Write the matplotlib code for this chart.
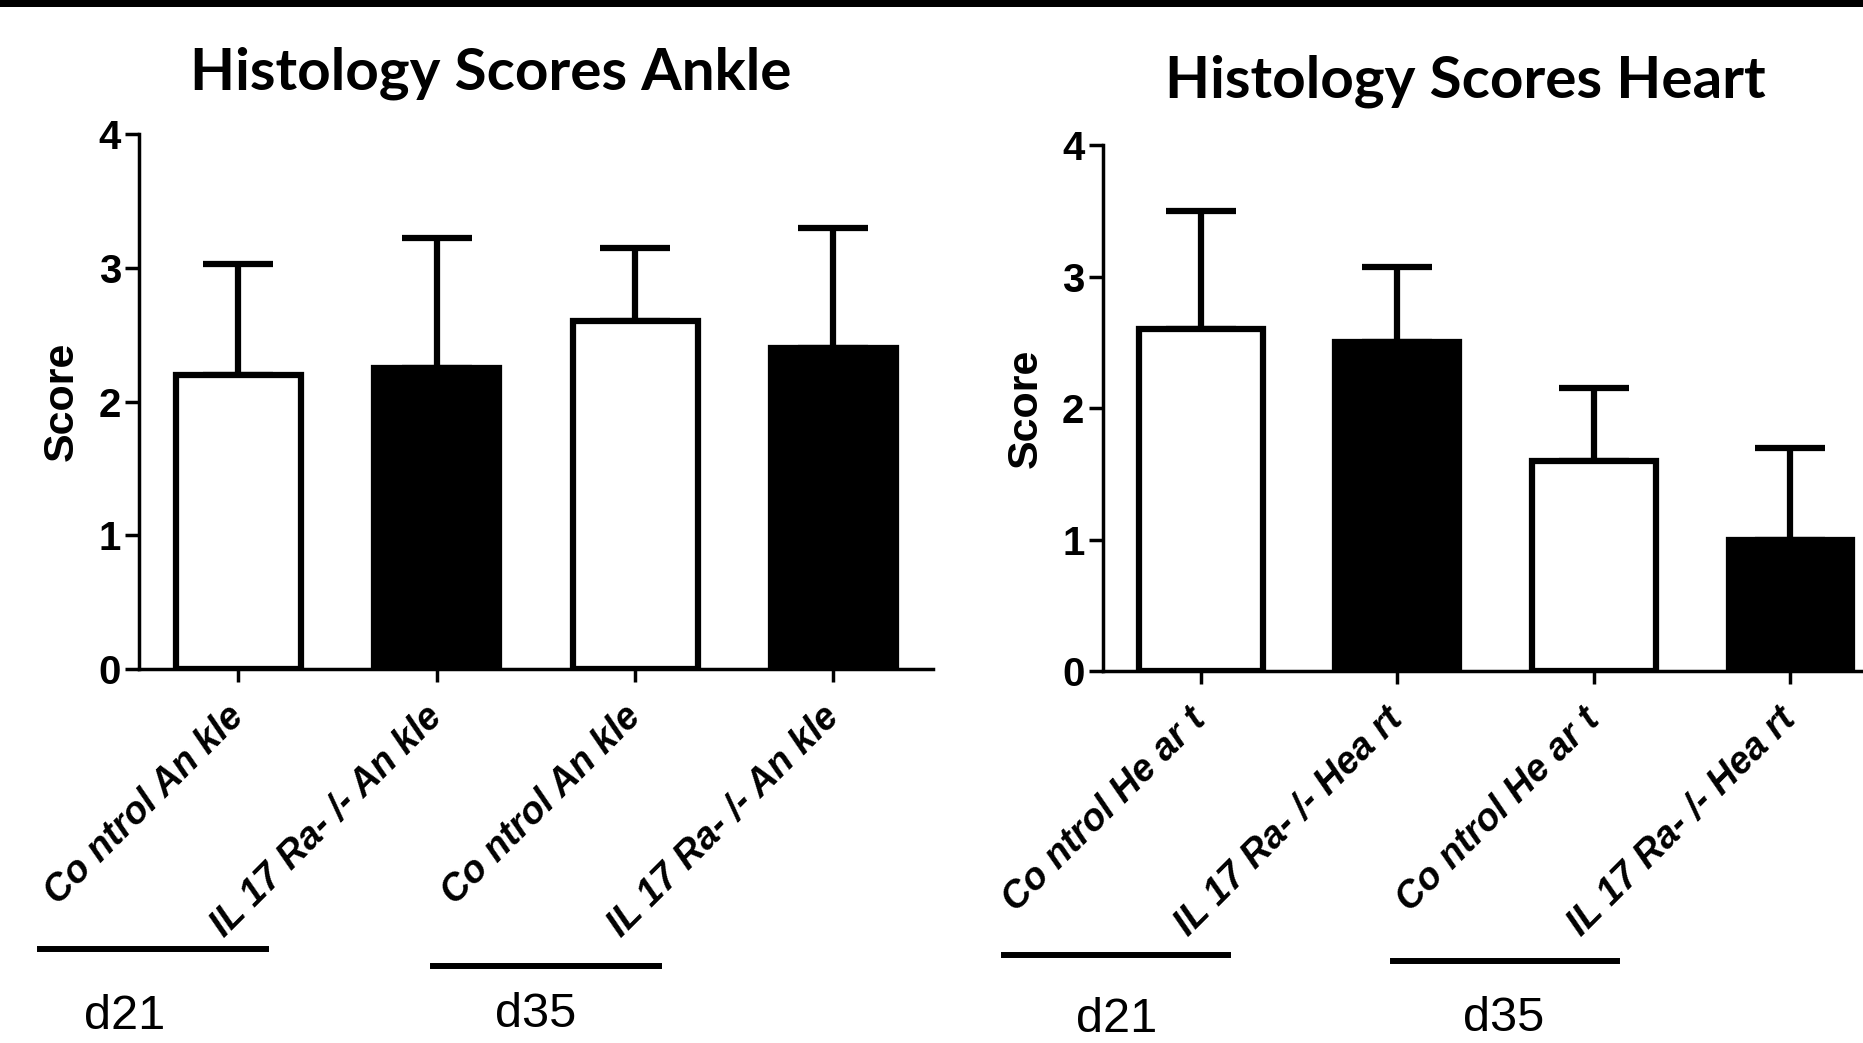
import matplotlib
matplotlib.use("Agg")
import matplotlib.pyplot as plt
import matplotlib.transforms as mtransforms
from matplotlib.patches import Rectangle
from matplotlib.lines import Line2D
from matplotlib import font_manager

# ---------------- data ----------------
ankle_labels = ["Co ntrol An kle", "IL 17 Ra- /- An kle", "Co ntrol An kle", "IL 17 Ra- /- An kle"]
ankle_means = [2.2, 2.25, 2.6, 2.4]
ankle_err = [0.83, 0.97, 0.55, 0.9]

heart_labels = ["Co ntrol He ar t", "IL 17 Ra- /- Hea rt", "Co ntrol He ar t", "IL 17 Ra- /- Hea rt"]
heart_means = [2.6, 2.5, 1.6, 1.0]
heart_err = [0.9, 0.57, 0.55, 0.7]

bar_colors = ["white", "black", "white", "black"]
y_ticks = [0, 1, 2, 3, 4]
group_names = ["d21", "d35"]

available = {f.name for f in font_manager.fontManager.ttflist}
narrow = "Liberation Sans Narrow" if "Liberation Sans Narrow" in available else "Liberation Sans"
title_font = "Lato" if "Lato" in available else "Open Sans"

plt.rcParams["font.family"] = ["Liberation Sans", "DejaVu Sans"]

fig = plt.figure(figsize=(18.63, 10.43), dpi=100)

# top black band
fig.patches.append(Rectangle((0, 1 - 7 / 1043), 1, 7 / 1043, transform=fig.transFigure,
                             facecolor="black", edgecolor="none"))

def panel(rect, labels, means, errs, group_y, text_pos):
    ax = fig.add_axes(rect)
    x = list(range(len(means)))
    ax.bar(x, means, width=0.63, color=bar_colors, edgecolor="black", linewidth=4.5, zorder=2)
    ax.errorbar(x, means, yerr=[[0] * len(errs), errs], fmt="none", ecolor="black",
                elinewidth=4.5, capsize=25, capthick=4.5, zorder=1)
    ax.set_xlim(-0.5, 3.5)
    ax.set_ylim(0, 4)
    ax.set_yticks(y_ticks)
    ax.set_yticklabels([str(t) for t in y_ticks], fontsize=29, fontweight="bold")
    ax.set_xticks(x)
    ax.set_xticklabels(labels, rotation=45, ha="right", va="center", rotation_mode="anchor",
                       fontsize=27, fontweight="bold", fontstyle="italic")
    for lab in ax.get_xticklabels():
        lab.set_transform(lab.get_transform() + mtransforms.ScaledTranslation(-6 / 100, 0, fig.dpi_scale_trans))
    ax.tick_params(axis="x", length=9, width=2.5, pad=22)
    ax.tick_params(axis="y", length=10, width=2.5, pad=3)
    for s in ["top", "right"]:
        ax.spines[s].set_visible(False)
    for s in ["left", "bottom"]:
        ax.spines[s].set_linewidth(2.5)
    ax.set_ylabel("Score", fontsize=31, fontweight="bold", labelpad=12)
    ax.patch.set_alpha(0)
    trans = mtransforms.blended_transform_factory(ax.transData, fig.transFigure)
    starts = [-1.0, 0.98]
    for i, (gy, (tx, ty)) in enumerate(zip(group_y, text_pos)):
        ax.add_line(Line2D([starts[i], starts[i] + 1.14], [gy, gy], transform=trans,
                           color="black", linewidth=4.3, clip_on=False))
        ax.text(tx, ty, group_names[i], transform=trans, ha="center", va="bottom",
                fontsize=35, family=[narrow, "DejaVu Sans"], clip_on=False)
    return ax

ax1 = panel([0.0746, 0.3588, 0.426, 0.5125], ankle_labels, ankle_means, ankle_err,
            [0.090, 0.074], [(-0.57, 0.004), (1.5, 0.006)])
ax2 = panel([0.5918, 0.3565, 0.422, 0.5045], heart_labels, heart_means, heart_err,
            [0.084, 0.0786], [(-0.43, 0.001), (1.54, 0.002)])

fig.text(413 / 1568, 1 - 62 / 878, "Histology Scores Ankle", ha="center", va="center",
         fontsize=42, fontweight="bold", family=[title_font, "DejaVu Sans"])
fig.text(1233 / 1568, 1 - 68 / 878, "Histology Scores Heart", ha="center", va="center",
         fontsize=42, fontweight="bold", family=[title_font, "DejaVu Sans"])

fig.savefig("out.png", dpi=100)
